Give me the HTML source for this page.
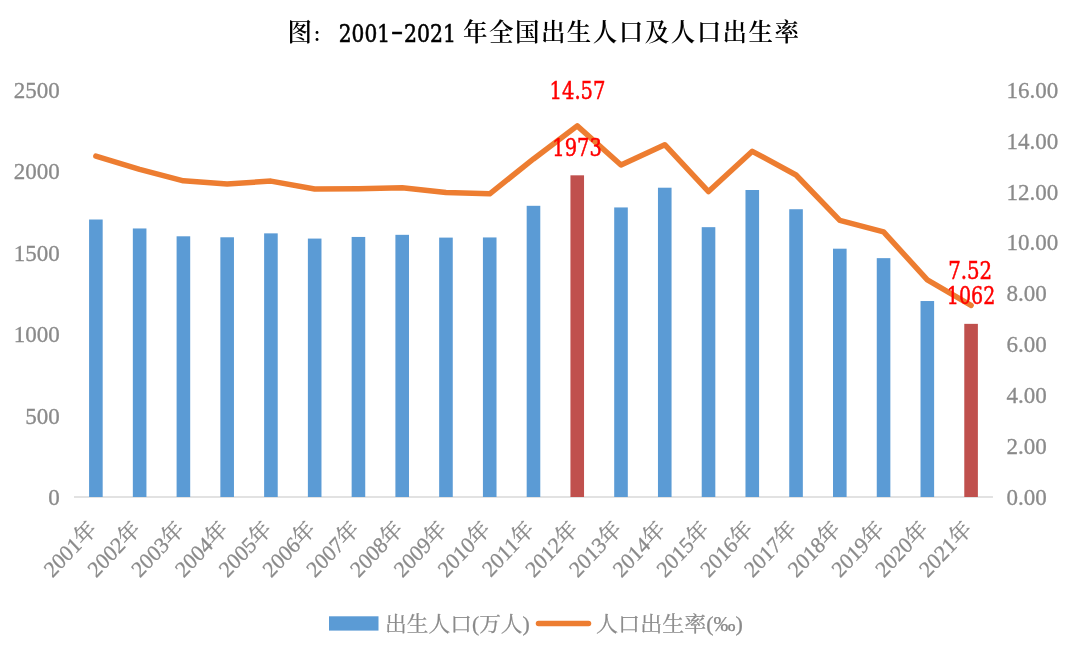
<!DOCTYPE html>
<html><head><meta charset="utf-8"><style>
html,body{margin:0;padding:0;background:#fff;width:1080px;height:656px;overflow:hidden}
svg{display:block;filter:blur(0.5px)}
</style></head><body>
<svg width="1080" height="656" viewBox="0 0 1080 656">
<rect x="0" y="0" width="1080" height="656" fill="#ffffff"/>
<text x="287.5" y="40.7" font-family="'Noto Serif CJK SC',serif" font-size="24.5" font-weight="600" fill="#000">图</text>
<text x="312.2" y="41.8" font-family="'Noto Serif CJK SC',serif" font-size="19" font-weight="600" fill="#000">：</text>
<text x="338.8" y="42.2" font-family="'DejaVu Serif',serif" font-size="25" font-weight="400" stroke="#000" stroke-width="0.6" lengthAdjust="spacingAndGlyphs" fill="#000" textLength="51.2">2001</text>
<text transform="translate(391,40.300000000000004) scale(1.45,1.05)" font-family="'DejaVu Serif',serif" font-size="25" font-weight="400" stroke="#000" stroke-width="0.6" lengthAdjust="spacingAndGlyphs" fill="#000">-</text>
<text x="404" y="42.2" font-family="'DejaVu Serif',serif" font-size="25" font-weight="400" stroke="#000" stroke-width="0.6" lengthAdjust="spacingAndGlyphs" fill="#000" textLength="52">2021</text>
<text x="463" y="40.7" font-family="'Noto Serif CJK SC',serif" font-size="24.5" font-weight="600" textLength="336" lengthAdjust="spacing" fill="#000">年全国出生人口及人口出生率</text>
<line x1="74.0" y1="497.0" x2="992.9599999999999" y2="497.0" stroke="#d9d9d9" stroke-width="1.5"/>
<rect x="89.08" y="219.51" width="13.6" height="277.49" fill="#5b9bd5"/>
<rect x="132.84" y="228.47" width="13.6" height="268.53" fill="#5b9bd5"/>
<rect x="176.60" y="236.30" width="13.6" height="260.70" fill="#5b9bd5"/>
<rect x="220.36" y="237.28" width="13.6" height="259.72" fill="#5b9bd5"/>
<rect x="264.12" y="233.36" width="13.6" height="263.64" fill="#5b9bd5"/>
<rect x="307.88" y="238.58" width="13.6" height="258.42" fill="#5b9bd5"/>
<rect x="351.64" y="236.95" width="13.6" height="260.05" fill="#5b9bd5"/>
<rect x="395.40" y="234.83" width="13.6" height="262.17" fill="#5b9bd5"/>
<rect x="439.16" y="237.60" width="13.6" height="259.40" fill="#5b9bd5"/>
<rect x="482.92" y="237.44" width="13.6" height="259.56" fill="#5b9bd5"/>
<rect x="526.68" y="205.81" width="13.6" height="291.19" fill="#5b9bd5"/>
<rect x="570.44" y="175.32" width="13.6" height="321.68" fill="#c0504d"/>
<rect x="614.20" y="207.44" width="13.6" height="289.56" fill="#5b9bd5"/>
<rect x="657.96" y="187.71" width="13.6" height="309.29" fill="#5b9bd5"/>
<rect x="701.72" y="227.17" width="13.6" height="269.83" fill="#5b9bd5"/>
<rect x="745.48" y="190.00" width="13.6" height="307.00" fill="#5b9bd5"/>
<rect x="789.24" y="209.23" width="13.6" height="287.77" fill="#5b9bd5"/>
<rect x="833.00" y="248.69" width="13.6" height="248.31" fill="#5b9bd5"/>
<rect x="876.76" y="258.15" width="13.6" height="238.85" fill="#5b9bd5"/>
<rect x="920.52" y="301.03" width="13.6" height="195.97" fill="#5b9bd5"/>
<rect x="964.28" y="323.85" width="13.6" height="173.15" fill="#c0504d"/>
<polyline points="95.88,156.14 139.64,169.39 183.40,180.86 227.16,183.91 270.92,181.11 314.68,189.01 358.44,188.75 402.20,187.73 445.96,192.57 489.72,193.85 533.48,158.95 577.24,125.83 621.00,165.06 664.76,144.68 708.52,191.55 752.28,151.30 796.04,175.00 839.80,220.34 883.56,231.81 927.32,279.95 971.08,305.43" fill="none" stroke="#ed7d31" stroke-width="5.5" stroke-linejoin="round" stroke-linecap="round"/>
<text x="549.5" y="98.8" font-family="'DejaVu Serif',serif" font-stretch="condensed" font-size="23.6" textLength="56" lengthAdjust="spacingAndGlyphs" fill="#ff0000" stroke="#ff0000" stroke-width="0.45">14.57</text>
<text x="552.3" y="156" font-family="'DejaVu Serif',serif" font-stretch="condensed" font-size="23.6" textLength="49.5" lengthAdjust="spacingAndGlyphs" fill="#ff0000" stroke="#ff0000" stroke-width="0.45">1973</text>
<text x="948.2" y="279" font-family="'DejaVu Serif',serif" font-stretch="condensed" font-size="23.6" textLength="44" lengthAdjust="spacingAndGlyphs" fill="#ff0000" stroke="#ff0000" stroke-width="0.45">7.52</text>
<text x="946.8" y="304.2" font-family="'DejaVu Serif',serif" font-stretch="condensed" font-size="23.6" textLength="48.5" lengthAdjust="spacingAndGlyphs" fill="#ff0000" stroke="#ff0000" stroke-width="0.45">1062</text>
<text transform="translate(59.80,505.20)" text-anchor="end" font-family="'Liberation Serif','Noto Serif CJK SC',serif" font-size="23" fill="#8a8a8a" stroke="#8a8a8a" stroke-width="0.3" >0</text>
<text transform="translate(59.80,423.68)" text-anchor="end" font-family="'Liberation Serif','Noto Serif CJK SC',serif" font-size="23" fill="#8a8a8a" stroke="#8a8a8a" stroke-width="0.3" >500</text>
<text transform="translate(59.80,342.16)" text-anchor="end" font-family="'Liberation Serif','Noto Serif CJK SC',serif" font-size="23" fill="#8a8a8a" stroke="#8a8a8a" stroke-width="0.3" >1000</text>
<text transform="translate(59.80,260.64)" text-anchor="end" font-family="'Liberation Serif','Noto Serif CJK SC',serif" font-size="23" fill="#8a8a8a" stroke="#8a8a8a" stroke-width="0.3" >1500</text>
<text transform="translate(59.80,179.12)" text-anchor="end" font-family="'Liberation Serif','Noto Serif CJK SC',serif" font-size="23" fill="#8a8a8a" stroke="#8a8a8a" stroke-width="0.3" >2000</text>
<text transform="translate(59.80,97.60)" text-anchor="end" font-family="'Liberation Serif','Noto Serif CJK SC',serif" font-size="23" fill="#8a8a8a" stroke="#8a8a8a" stroke-width="0.3" >2500</text>
<text transform="translate(1006.50,505.20)" text-anchor="start" font-family="'Liberation Serif','Noto Serif CJK SC',serif" font-size="23" fill="#8a8a8a" stroke="#8a8a8a" stroke-width="0.3" >0.00</text>
<text transform="translate(1006.50,454.25)" text-anchor="start" font-family="'Liberation Serif','Noto Serif CJK SC',serif" font-size="23" fill="#8a8a8a" stroke="#8a8a8a" stroke-width="0.3" >2.00</text>
<text transform="translate(1006.50,403.30)" text-anchor="start" font-family="'Liberation Serif','Noto Serif CJK SC',serif" font-size="23" fill="#8a8a8a" stroke="#8a8a8a" stroke-width="0.3" >4.00</text>
<text transform="translate(1006.50,352.35)" text-anchor="start" font-family="'Liberation Serif','Noto Serif CJK SC',serif" font-size="23" fill="#8a8a8a" stroke="#8a8a8a" stroke-width="0.3" >6.00</text>
<text transform="translate(1006.50,301.40)" text-anchor="start" font-family="'Liberation Serif','Noto Serif CJK SC',serif" font-size="23" fill="#8a8a8a" stroke="#8a8a8a" stroke-width="0.3" >8.00</text>
<text transform="translate(1006.50,250.45)" text-anchor="start" font-family="'Liberation Serif','Noto Serif CJK SC',serif" font-size="23" fill="#8a8a8a" stroke="#8a8a8a" stroke-width="0.3" >10.00</text>
<text transform="translate(1006.50,199.50)" text-anchor="start" font-family="'Liberation Serif','Noto Serif CJK SC',serif" font-size="23" fill="#8a8a8a" stroke="#8a8a8a" stroke-width="0.3" >12.00</text>
<text transform="translate(1006.50,148.55)" text-anchor="start" font-family="'Liberation Serif','Noto Serif CJK SC',serif" font-size="23" fill="#8a8a8a" stroke="#8a8a8a" stroke-width="0.3" >14.00</text>
<text transform="translate(1006.50,97.60)" text-anchor="start" font-family="'Liberation Serif','Noto Serif CJK SC',serif" font-size="23" fill="#8a8a8a" stroke="#8a8a8a" stroke-width="0.3" >16.00</text>
<text transform="translate(97.78,530.50) scale(0.94,1) rotate(-45)" text-anchor="end" font-family="'Liberation Serif','Noto Serif CJK SC',serif" font-size="22.7" fill="#8a8a8a" stroke="#8a8a8a" stroke-width="0.3" >2001年</text>
<text transform="translate(141.54,530.50) scale(0.94,1) rotate(-45)" text-anchor="end" font-family="'Liberation Serif','Noto Serif CJK SC',serif" font-size="22.7" fill="#8a8a8a" stroke="#8a8a8a" stroke-width="0.3" >2002年</text>
<text transform="translate(185.30,530.50) scale(0.94,1) rotate(-45)" text-anchor="end" font-family="'Liberation Serif','Noto Serif CJK SC',serif" font-size="22.7" fill="#8a8a8a" stroke="#8a8a8a" stroke-width="0.3" >2003年</text>
<text transform="translate(229.06,530.50) scale(0.94,1) rotate(-45)" text-anchor="end" font-family="'Liberation Serif','Noto Serif CJK SC',serif" font-size="22.7" fill="#8a8a8a" stroke="#8a8a8a" stroke-width="0.3" >2004年</text>
<text transform="translate(272.82,530.50) scale(0.94,1) rotate(-45)" text-anchor="end" font-family="'Liberation Serif','Noto Serif CJK SC',serif" font-size="22.7" fill="#8a8a8a" stroke="#8a8a8a" stroke-width="0.3" >2005年</text>
<text transform="translate(316.58,530.50) scale(0.94,1) rotate(-45)" text-anchor="end" font-family="'Liberation Serif','Noto Serif CJK SC',serif" font-size="22.7" fill="#8a8a8a" stroke="#8a8a8a" stroke-width="0.3" >2006年</text>
<text transform="translate(360.34,530.50) scale(0.94,1) rotate(-45)" text-anchor="end" font-family="'Liberation Serif','Noto Serif CJK SC',serif" font-size="22.7" fill="#8a8a8a" stroke="#8a8a8a" stroke-width="0.3" >2007年</text>
<text transform="translate(404.10,530.50) scale(0.94,1) rotate(-45)" text-anchor="end" font-family="'Liberation Serif','Noto Serif CJK SC',serif" font-size="22.7" fill="#8a8a8a" stroke="#8a8a8a" stroke-width="0.3" >2008年</text>
<text transform="translate(447.86,530.50) scale(0.94,1) rotate(-45)" text-anchor="end" font-family="'Liberation Serif','Noto Serif CJK SC',serif" font-size="22.7" fill="#8a8a8a" stroke="#8a8a8a" stroke-width="0.3" >2009年</text>
<text transform="translate(491.62,530.50) scale(0.94,1) rotate(-45)" text-anchor="end" font-family="'Liberation Serif','Noto Serif CJK SC',serif" font-size="22.7" fill="#8a8a8a" stroke="#8a8a8a" stroke-width="0.3" >2010年</text>
<text transform="translate(535.38,530.50) scale(0.94,1) rotate(-45)" text-anchor="end" font-family="'Liberation Serif','Noto Serif CJK SC',serif" font-size="22.7" fill="#8a8a8a" stroke="#8a8a8a" stroke-width="0.3" >2011年</text>
<text transform="translate(579.14,530.50) scale(0.94,1) rotate(-45)" text-anchor="end" font-family="'Liberation Serif','Noto Serif CJK SC',serif" font-size="22.7" fill="#8a8a8a" stroke="#8a8a8a" stroke-width="0.3" >2012年</text>
<text transform="translate(622.90,530.50) scale(0.94,1) rotate(-45)" text-anchor="end" font-family="'Liberation Serif','Noto Serif CJK SC',serif" font-size="22.7" fill="#8a8a8a" stroke="#8a8a8a" stroke-width="0.3" >2013年</text>
<text transform="translate(666.66,530.50) scale(0.94,1) rotate(-45)" text-anchor="end" font-family="'Liberation Serif','Noto Serif CJK SC',serif" font-size="22.7" fill="#8a8a8a" stroke="#8a8a8a" stroke-width="0.3" >2014年</text>
<text transform="translate(710.42,530.50) scale(0.94,1) rotate(-45)" text-anchor="end" font-family="'Liberation Serif','Noto Serif CJK SC',serif" font-size="22.7" fill="#8a8a8a" stroke="#8a8a8a" stroke-width="0.3" >2015年</text>
<text transform="translate(754.18,530.50) scale(0.94,1) rotate(-45)" text-anchor="end" font-family="'Liberation Serif','Noto Serif CJK SC',serif" font-size="22.7" fill="#8a8a8a" stroke="#8a8a8a" stroke-width="0.3" >2016年</text>
<text transform="translate(797.94,530.50) scale(0.94,1) rotate(-45)" text-anchor="end" font-family="'Liberation Serif','Noto Serif CJK SC',serif" font-size="22.7" fill="#8a8a8a" stroke="#8a8a8a" stroke-width="0.3" >2017年</text>
<text transform="translate(841.70,530.50) scale(0.94,1) rotate(-45)" text-anchor="end" font-family="'Liberation Serif','Noto Serif CJK SC',serif" font-size="22.7" fill="#8a8a8a" stroke="#8a8a8a" stroke-width="0.3" >2018年</text>
<text transform="translate(885.46,530.50) scale(0.94,1) rotate(-45)" text-anchor="end" font-family="'Liberation Serif','Noto Serif CJK SC',serif" font-size="22.7" fill="#8a8a8a" stroke="#8a8a8a" stroke-width="0.3" >2019年</text>
<text transform="translate(929.22,530.50) scale(0.94,1) rotate(-45)" text-anchor="end" font-family="'Liberation Serif','Noto Serif CJK SC',serif" font-size="22.7" fill="#8a8a8a" stroke="#8a8a8a" stroke-width="0.3" >2020年</text>
<text transform="translate(972.98,530.50) scale(0.94,1) rotate(-45)" text-anchor="end" font-family="'Liberation Serif','Noto Serif CJK SC',serif" font-size="22.7" fill="#8a8a8a" stroke="#8a8a8a" stroke-width="0.3" >2021年</text>
<rect x="329" y="616.3" width="49.5" height="14.3" fill="#5b9bd5"/>
<text x="385.1" y="631" font-family="'Liberation Serif','Noto Serif CJK SC',serif" font-size="21" textLength="144.7" lengthAdjust="spacingAndGlyphs" fill="#8a8a8a" stroke="#8a8a8a" stroke-width="0.25">出生人口(万人)</text>
<line x1="538.5" y1="623.4" x2="588.5" y2="623.4" stroke="#ed7d31" stroke-width="5.5" stroke-linecap="round"/>
<text x="596.1" y="631" font-family="'Liberation Serif','Noto Serif CJK SC',serif" font-size="21" textLength="146.8" lengthAdjust="spacingAndGlyphs" fill="#8a8a8a" stroke="#8a8a8a" stroke-width="0.25">人口出生率(‰)</text>
</svg>
</body></html>
